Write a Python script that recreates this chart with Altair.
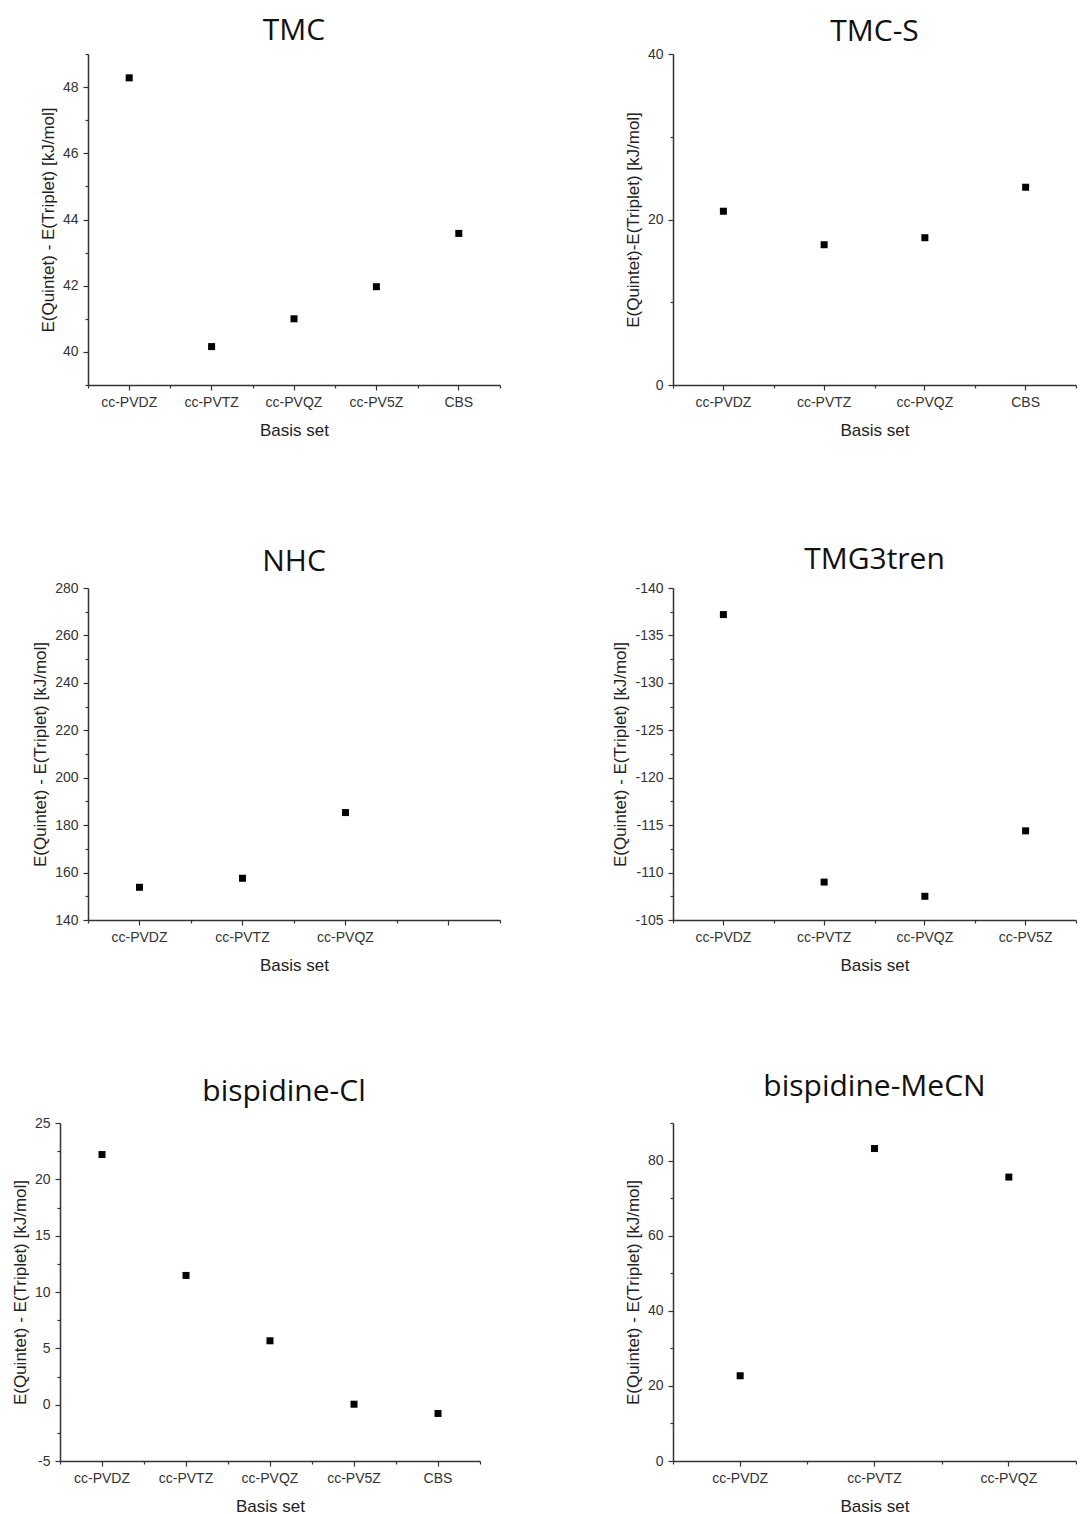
import altair as alt
import pandas as pd

# ---------------- data ----------------
tmc_basis = ["cc-PVDZ", "cc-PVTZ", "cc-PVQZ", "cc-PV5Z", "CBS"]
tmc_values = [48.28, 40.16, 41.00, 41.97, 43.58]
tmc_ticks = [39, 40, 41, 42, 43, 44, 45, 46, 47, 48, 49]
tmc_major = [40, 42, 44, 46, 48]

tmcs_basis = ["cc-PVDZ", "cc-PVTZ", "cc-PVQZ", "CBS"]
tmcs_values = [21.0, 16.95, 17.8, 23.9]
tmcs_ticks = [0, 10, 20, 30, 40]
tmcs_major = [0, 20, 40]

nhc_basis = ["cc-PVDZ", "cc-PVTZ", "cc-PVQZ"]
nhc_axis = ["cc-PVDZ", "cc-PVTZ", "cc-PVQZ", ""]
nhc_values = [153.8, 157.6, 185.3]
nhc_ticks = [140, 150, 160, 170, 180, 190, 200, 210, 220, 230, 240, 250, 260, 270, 280]
nhc_major = [140, 160, 180, 200, 220, 240, 260, 280]

tmg_basis = ["cc-PVDZ", "cc-PVTZ", "cc-PVQZ", "cc-PV5Z"]
tmg_values = [-137.2, -109.0, -107.5, -114.4]
tmg_ticks = [-140, -137.5, -135, -132.5, -130, -127.5, -125, -122.5, -120,
             -117.5, -115, -112.5, -110, -107.5, -105]
tmg_major = [-140, -135, -130, -125, -120, -115, -110, -105]

bcl_basis = ["cc-PVDZ", "cc-PVTZ", "cc-PVQZ", "cc-PV5Z", "CBS"]
bcl_values = [22.2, 11.47, 5.67, 0.04, -0.78]
bcl_ticks = [-5, -2.5, 0, 2.5, 5, 7.5, 10, 12.5, 15, 17.5, 20, 22.5, 25]
bcl_major = [-5, 0, 5, 10, 15, 20, 25]

bme_basis = ["cc-PVDZ", "cc-PVTZ", "cc-PVQZ"]
bme_values = [22.7, 83.2, 75.6]
bme_ticks = [0, 10, 20, 30, 40, 50, 60, 70, 80, 90]
bme_major = [0, 20, 40, 60, 80]

YT1 = "E(Quintet) - E(Triplet) [kJ/mol]"
YT2 = "E(Quintet)-E(Triplet) [kJ/mol]"


def panel(title, cats, vals, axis_cats, ticks, major, ydomain, ytitle,
          width, height, title_offset, reverse=False, xrange=None, yoffset=0):
    df = pd.DataFrame({"basis": cats, "value": vals})
    sk = dict(type="band", domain=axis_cats, paddingInner=0, paddingOuter=0)
    if xrange is not None:
        sk["range"] = xrange
    xscale = alt.Scale(**sk)
    mj = "[" + ",".join(str(m) for m in major) + "]"
    test = f"indexof({mj}, datum.value) >= 0"
    yaxis = alt.Axis(
        values=ticks,
        labelExpr=f"{test} ? '' + datum.value : ''",
        tickSize={"condition": {"test": test, "value": 5}, "value": 3},
        title=ytitle, grid=False, labelFlush=False, labelOverlap=False,
        labelPadding=5, titlePadding=5, offset=yoffset,
    )
    ysk = dict(domain=ydomain, nice=False, zero=False)
    if reverse:
        ysk["reverse"] = True
    pts = alt.Chart(df).mark_square(size=49, color="black", opacity=1).encode(
        x=alt.X("basis:N", scale=xscale, sort=axis_cats,
                axis=alt.Axis(title="Basis set", labelAngle=0, tickSize=5,
                              orient="bottom", labelPadding=5, titlePadding=13,
                              grid=False)),
        y=alt.Y("value:Q", scale=alt.Scale(**ysk), axis=yaxis),
    )
    minor = alt.Chart(df).mark_square(size=1, opacity=0).encode(
        x=alt.X("basis:N", scale=xscale, sort=axis_cats,
                axis=alt.Axis(title=None, labels=False, domain=False,
                              tickBand="extent", tickSize=3, orient="bottom",
                              grid=False)),
    )
    return alt.layer(pts, minor).resolve_axis(x="independent").properties(
        width=width, height=height,
        title=alt.TitleParams(text=title, font="Open Sans", fontSize=30,
                              fontWeight="normal", anchor="middle",
                              frame="group", offset=title_offset,
                              color="#111111"),
    )


p1 = panel("TMC", tmc_basis, tmc_values, tmc_basis, tmc_ticks, tmc_major,
           [39, 49], YT1, 412, 331, 1)
p2 = panel("TMC-S", tmcs_basis, tmcs_values, tmcs_basis, tmcs_ticks,
           tmcs_major, [0, 40], YT2, 403, 331, 0)
p3 = panel("NHC", nhc_basis, nhc_values, nhc_axis, nhc_ticks, nhc_major,
           [140, 280], YT1, 412, 332, 4)
p4 = panel("TMG3tren", tmg_basis, tmg_values, tmg_basis, tmg_ticks,
           tmg_major, [-140, -105], YT1, 403, 332, 6, reverse=True)
p5 = panel("bispidine-Cl", bcl_basis, bcl_values, bcl_basis, bcl_ticks,
           bcl_major, [-5, 25], YT1, 392, 338, 9, xrange=[-28, 392],
           yoffset=28)
p6 = panel("bispidine-MeCN", bme_basis, bme_values, bme_basis, bme_ticks,
           bme_major, [0, 90], YT1, 403, 338, 14)

chart = alt.concat(
    p1, p2, p3, p4, p5, p6, columns=2, bounds="flush",
    spacing={"row": 203, "column": 173},
).properties(
    padding={"left": 3, "top": 8, "right": 0, "bottom": 0},
    background="white",
).configure_view(strokeWidth=0).configure_axis(
    domainColor="#333333", domainWidth=1.5, tickColor="#333333",
    tickWidth=1.2, labelFont="Liberation Sans", labelFontSize=14,
    labelColor="#333333", titleFont="Liberation Sans", titleFontSize=17,
    titleFontWeight="normal", titleColor="#222222",
)

chart.save("out.html", embed_options={"renderer": "svg", "actions": False})
